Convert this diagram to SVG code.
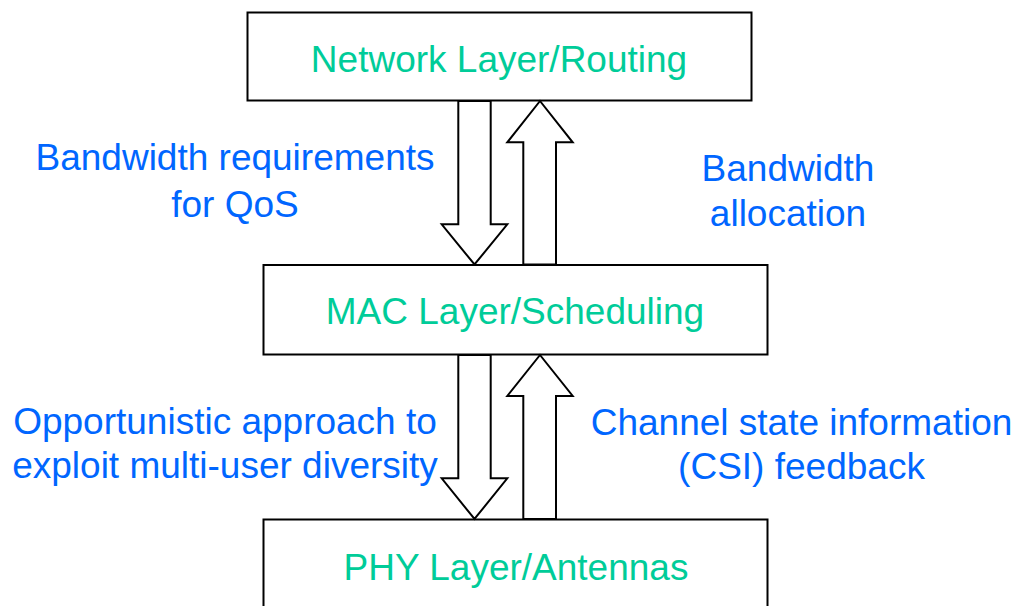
<svg xmlns="http://www.w3.org/2000/svg" width="1019" height="606" viewBox="0 0 1019 606">
<style>
.box{fill:#fff;stroke:#000;stroke-width:2}
.arr{fill:#fff;stroke:#000;stroke-width:2;stroke-linejoin:miter}
.node{font-family:"Liberation Sans",Arial,sans-serif;font-size:37px;fill:#00CC99;text-anchor:middle}
.lbl{font-family:"Liberation Sans",Arial,sans-serif;font-size:37px;fill:#0066FF;text-anchor:middle}
</style>
<rect width="1019" height="606" fill="#fff"/>
<g id="network">
<rect class="box" x="247.5" y="12.5" width="504" height="88"/>
<text class="node" x="499" y="72">Network Layer/Routing</text>
</g>
<g id="mac">
<rect class="box" x="263.5" y="265" width="504" height="89.5"/>
<text class="node" x="515" y="324">MAC Layer/Scheduling</text>
</g>
<g id="phy">
<rect class="box" x="263.5" y="519.5" width="504" height="100"/>
<text class="node" x="516" y="579.5">PHY Layer/Antennas</text>
</g>
<g id="connectors">
<polygon class="arr" points="458.3,101 490.7,101 490.7,224.3 507.3,224.3 474.5,264.5 441.7,224.3 458.3,224.3"/>
<polygon class="arr" points="523.3,264.5 556,264.5 556,142.3 572.7,142.3 540,101 507.3,142.3 523.3,142.3"/>
<polygon class="arr" points="458.3,355 490.7,355 490.7,478.3 507.3,478.3 474.5,519 441.7,478.3 458.3,478.3"/>
<polygon class="arr" points="523.3,519 556,519 556,396 572.7,396 540,355 507.3,396 523.3,396"/>
</g>
<g id="labels">
<text class="lbl" x="235" y="170">Bandwidth requirements</text>
<text class="lbl" x="235" y="216.5">for QoS</text>
<text class="lbl" x="788" y="180.5">Bandwidth</text>
<text class="lbl" x="788" y="226">allocation</text>
<text class="lbl" x="225" y="434">Opportunistic approach to</text>
<text class="lbl" x="225" y="478">exploit multi-user diversity</text>
<text class="lbl" x="801.5" y="435">Channel state information</text>
<text class="lbl" x="801.5" y="479">(CSI) feedback</text>
</g>
</svg>
